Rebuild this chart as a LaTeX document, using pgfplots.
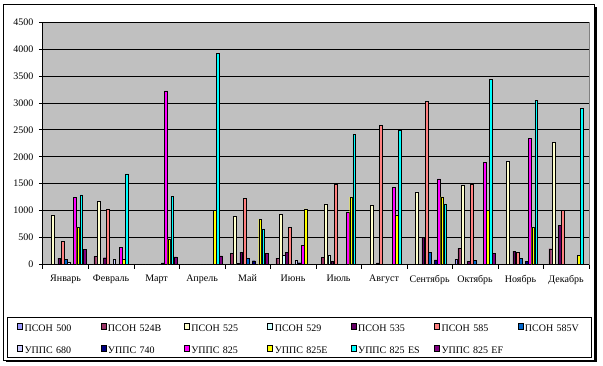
\documentclass[border=0pt]{standalone}
\usepackage{fontspec}
\setmainfont{Liberation Serif}
\usepackage{pgfplots}
\usepackage{pgfplotstable}
\pgfplotsset{compat=1.18}
\definecolor{c1}{HTML}{9999FF}
\definecolor{c2}{HTML}{993366}
\definecolor{c3}{HTML}{FFFFCC}
\definecolor{c4}{HTML}{CCFFFF}
\definecolor{c5}{HTML}{660066}
\definecolor{c6}{HTML}{FF8080}
\definecolor{c7}{HTML}{0066CC}
\definecolor{c8}{HTML}{CCCCFF}
\definecolor{c9}{HTML}{000080}
\definecolor{c10}{HTML}{FF00FF}
\definecolor{c11}{HTML}{FFFF00}
\definecolor{c12}{HTML}{00FFFF}
\definecolor{c13}{HTML}{800080}
\definecolor{plotbg}{HTML}{C0C0C0}
\definecolor{plotborder}{HTML}{808080}

\pgfplotstableread{
m  s1  s2  s3   s4  s5  s6   s7  s8  s9  s10  s11  s12  s13
0  0   0   920  0   120 435  100 45  0   1250 690  1290 275
1  0   152 1178 0   126 1030 0   102 0   319  100  1680 0
2  0   0   0    0   0   0    0   0   30  3220 473  1271 140
3  0   0   0    0   0   0    0   0   0   0    1000 3920 158
4  0   213 900  28  232 1234 120 0   70  0    844  659  213
5  0   120 937  170 232 690  0   84  33  356  1030 0    0
6  0   139 1123 170 65  1481 0   0   0   974  1253 2420 0
7  0   0   1104 0   28  2585 0   0   0   1433 919  2490 0
8  0   0   1346 0   510 3029 232 0   84  1587 1253 1123 0
9  102 306 1475 0   65  1490 80  0   0   1897 1000 3437 207
10 0   0   1915 0   250 226  120 0   65  2342 690  3040 0
11 0   293 2268 0   733 1006 0   0   0   0    170  2899 0
}\data

\begin{document}
\fontsize{10pt}{12pt}\selectfont
\begin{tikzpicture}[x=1pt,y=1pt]
\path[use as bounding box] (0,0) rectangle (603,365);
\fill[black] (6,3) rectangle (597,358);
\filldraw[fill=white,draw=black,line width=0.6pt] (3,5) rectangle (594,361);
\draw[black,line width=0.8pt] (7,8) rectangle (591,48);
\begin{axis}[
  at={(42.8pt,100.5pt)}, anchor=south west,
  scale only axis, width=546pt, height=242.5pt,
  xmin=-0.5, xmax=11.5, ymin=0, ymax=4500,
  ybar=0.4pt, bar width=2.74pt,
  axis background/.style={fill=plotbg, draw=plotborder, line width=0.6pt},
  axis x line*=bottom, axis y line*=left,
  axis line style={black, line width=0.6pt, -},
  tick align=outside,
  ytick={0,500,...,4500},
  xtick={0,...,11},
  xticklabels={Январь,Февраль,Март,Апрель,Май,Июнь,Июль,Август,Сентябрь,Октябрь,Ноябрь,Декабрь},
  minor xtick={-0.5,0.5,...,11.5},
  major tick length=4pt, minor tick length=4pt,
  major x tick style={draw=none},
  tick style={black, line width=0.6pt},
  ymajorgrids, major y grid style={black, line width=0.6pt},
  scaled y ticks=false,
  /pgf/number format/1000 sep={},
  /pgf/number format/assume math mode=true,
  ticklabel style={font=\fontsize{10pt}{12pt}\selectfont},
  yticklabel style={xshift=-2pt},
  xticklabel style={yshift=-3pt},
  every axis plot/.append style={draw=black, line width=0.4pt},
  legend columns=7,
  legend cell align=left,
  legend image code/.code={\draw[#1, draw=black, line width=0.4pt] (0.5pt,0pt) rectangle (5.5pt,5.5pt);},
  legend style={at={(axis description cs:-0.04725,-0.2421)}, anchor=north west,
    draw=none, fill=none, inner sep=0pt, column sep=0pt, row sep=11.6pt,
    font=\fontsize{10pt}{12pt}\selectfont,
    nodes={inner xsep=2pt, inner ysep=0pt, text width=74pt, align=left, text height=7pt, text depth=2pt}},
]
\addplot[fill=c1] table[x=m,y=s1]{\data};
\addplot[fill=c2] table[x=m,y=s2]{\data};
\addplot[fill=c3] table[x=m,y=s3]{\data};
\addplot[fill=c4] table[x=m,y=s4]{\data};
\addplot[fill=c5] table[x=m,y=s5]{\data};
\addplot[fill=c6] table[x=m,y=s6]{\data};
\addplot[fill=c7] table[x=m,y=s7]{\data};
\addplot[fill=c8] table[x=m,y=s8]{\data};
\addplot[fill=c9] table[x=m,y=s9]{\data};
\addplot[fill=c10] table[x=m,y=s10]{\data};
\addplot[fill=c11] table[x=m,y=s11]{\data};
\addplot[fill=c12] table[x=m,y=s12]{\data};
\addplot[fill=c13] table[x=m,y=s13]{\data};
\legend{ПСОН 500,ПСОН 524B,ПСОН 525,ПСОН 529,ПСОН 535,ПСОН 585,ПСОН 585V,УППС 680,УППС 740,УППС 825,УППС 825E,УППС 825 ES,УППС 825 EF}
\end{axis}
\end{tikzpicture}
\end{document}
